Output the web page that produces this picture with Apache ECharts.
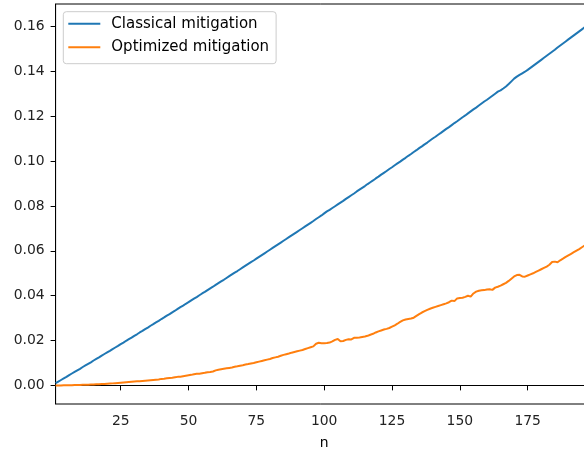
<!DOCTYPE html>
<html>
<head>
<meta charset="utf-8">
<script src="https://cdn.jsdelivr.net/npm/echarts@6/dist/echarts.min.js"></script>
<style>html,body{margin:0;padding:0;background:#fff;}#c{width:584px;height:450px;}</style>
</head>
<body>
<div id="c"></div>
<script>
const seriesNames = ['Classical mitigation', 'Optimized mitigation'];
const xTicks = [25, 50, 75, 100, 125, 150, 175];
const yTicks = [0, 0.02, 0.04, 0.06, 0.08, 0.10, 0.12, 0.14, 0.16];
const nStart = 1;
const classical = [
0.0010,0.0017,0.0024,0.0031,0.0038,0.0046,0.0053,0.0060,0.0067,0.0074,
0.0082,0.0089,0.0096,0.0103,0.0111,0.0118,0.0125,0.0133,0.0140,0.0147,
0.0154,0.0162,0.0169,0.0176,0.0184,0.0191,0.0199,0.0206,0.0213,0.0221,
0.0228,0.0236,0.0243,0.0251,0.0258,0.0266,0.0273,0.0281,0.0288,0.0296,
0.0303,0.0311,0.0318,0.0326,0.0333,0.0341,0.0349,0.0356,0.0364,0.0371,
0.0379,0.0387,0.0394,0.0402,0.0410,0.0417,0.0425,0.0433,0.0440,0.0448,
0.0456,0.0464,0.0471,0.0479,0.0487,0.0495,0.0503,0.0510,0.0518,0.0526,
0.0534,0.0542,0.0550,0.0557,0.0565,0.0573,0.0581,0.0589,0.0597,0.0605,
0.0613,0.0621,0.0629,0.0637,0.0645,0.0653,0.0661,0.0669,0.0677,0.0685,
0.0693,0.0701,0.0709,0.0717,0.0725,0.0733,0.0742,0.0750,0.0758,0.0767,
0.0776,0.0783,0.0791,0.0799,0.0807,0.0815,0.0823,0.0832,0.0840,0.0848,
0.0856,0.0865,0.0873,0.0881,0.0889,0.0898,0.0906,0.0914,0.0923,0.0931,
0.0940,0.0948,0.0956,0.0965,0.0973,0.0982,0.0990,0.0998,0.1007,0.1015,
0.1024,0.1032,0.1041,0.1049,0.1058,0.1066,0.1075,0.1083,0.1092,0.1101,
0.1109,0.1118,0.1126,0.1135,0.1144,0.1152,0.1161,0.1170,0.1178,0.1187,
0.1196,0.1204,0.1213,0.1222,0.1231,0.1239,0.1248,0.1257,0.1266,0.1274,
0.1283,0.1292,0.1301,0.1310,0.1316,0.1324,0.1333,0.1344,0.1356,0.1368,
0.1377,0.1385,0.1392,0.1399,0.1407,0.1416,0.1425,0.1434,0.1443,0.1452,
0.1461,0.1470,0.1479,0.1488,0.1497,0.1507,0.1516,0.1525,0.1534,0.1543,
0.1552,0.1561,0.1570,0.1579,0.1588,0.1597,0.1607,0.1616,0.1625
];
const optimized = [
0.0000,0.0000,0.0000,0.0001,0.0001,0.0001,0.0001,0.0002,0.0002,0.0002,
0.0003,0.0003,0.0003,0.0004,0.0004,0.0005,0.0005,0.0006,0.0006,0.0007,
0.0008,0.0009,0.0010,0.0011,0.0012,0.0013,0.0014,0.0015,0.0016,0.0017,
0.0018,0.0019,0.0020,0.0021,0.0022,0.0023,0.0024,0.0025,0.0026,0.0029,
0.0030,0.0032,0.0033,0.0034,0.0036,0.0038,0.0039,0.0041,0.0043,0.0045,
0.0047,0.0050,0.0052,0.0052,0.0054,0.0056,0.0059,0.0060,0.0062,0.0067,
0.0070,0.0072,0.0074,0.0076,0.0078,0.0080,0.0083,0.0085,0.0088,0.0090,
0.0093,0.0095,0.0098,0.0100,0.0103,0.0106,0.0109,0.0112,0.0115,0.0118,
0.0122,0.0125,0.0128,0.0132,0.0136,0.0139,0.0142,0.0146,0.0149,0.0152,
0.0155,0.0158,0.0162,0.0166,0.0170,0.0174,0.0186,0.0190,0.0188,0.0188,
0.0189,0.0191,0.0196,0.0203,0.0207,0.0197,0.0198,0.0203,0.0206,0.0205,
0.0212,0.0213,0.0214,0.0216,0.0218,0.0221,0.0226,0.0230,0.0236,0.0241,
0.0245,0.0249,0.0252,0.0256,0.0262,0.0268,0.0275,0.0283,0.0290,0.0294,
0.0296,0.0298,0.0302,0.0310,0.0318,0.0325,0.0331,0.0337,0.0342,0.0346,
0.0350,0.0354,0.0358,0.0362,0.0366,0.0371,0.0378,0.0376,0.0388,0.0390,
0.0391,0.0395,0.0400,0.0396,0.0410,0.0418,0.0422,0.0424,0.0425,0.0428,
0.0429,0.0426,0.0436,0.0440,0.0445,0.0451,0.0457,0.0466,0.0476,0.0486,
0.0492,0.0493,0.0486,0.0485,0.0490,0.0495,0.0500,0.0506,0.0512,0.0518,
0.0524,0.0530,0.0538,0.0550,0.0552,0.0549,0.0558,0.0565,0.0573,0.0580,
0.0587,0.0594,0.0601,0.0608,0.0616,0.0624,0.0631,0.0638,0.0645
];
const xMin = 1, xMax = 199;
const yMin = -0.0083, yMax = 0.1701;

const toPairs = arr => arr.map((v, i) => [nStart + i, v]);
const font = 'DejaVu Sans';
const chart = echarts.init(document.getElementById('c'), null, {renderer: 'canvas'});
chart.setOption({
  animation: false,
  backgroundColor: '#fff',
  grid: {left: 55.6, top: 4, width: 537.2, height: 400, containLabel: false, outerBoundsMode: 'none',
         show: true, borderColor: '#000', borderWidth: 1, backgroundColor: 'transparent'},
  xAxis: {
    type: 'value', min: xMin, max: xMax,
    name: 'n', nameLocation: 'middle', nameGap: 32,
    nameTextStyle: {fontFamily: font, fontSize: 13.9, color: '#000'},
    splitLine: {show: false},
    axisLine: {show: true, lineStyle: {color: '#000', width: 1}},
    axisTick: {show: true, length: 5, lineStyle: {color: '#000', width: 1}, customValues: xTicks},
    axisLabel: {fontFamily: font, fontSize: 13.9, color: '#222', margin: 10, customValues: xTicks, formatter: v => String(v)}
  },
  yAxis: {
    type: 'value', min: yMin, max: yMax,
    splitLine: {show: false},
    axisLine: {show: true, lineStyle: {color: '#000', width: 1}},
    axisTick: {show: true, length: 5, lineStyle: {color: '#000', width: 1}, customValues: yTicks},
    axisLabel: {fontFamily: font, fontSize: 13.9, color: '#222', margin: 11, customValues: yTicks, formatter: v => v.toFixed(2)}
  },
  legend: {
    orient: 'vertical', left: 63.3, top: 11.7,
    itemWidth: 32, itemHeight: 14, itemGap: 8.4,
    icon: 'path://M0,0H32V2H0Z',
    padding: [4.6, 7, 9, 5],
    borderColor: '#ccc', borderWidth: 1, borderRadius: 3, backgroundColor: '#fff',
    textStyle: {fontFamily: font, fontSize: 15, color: '#000', padding: [0, 0, 0, 6]},
    data: seriesNames
  },
  series: [
    {name: seriesNames[0], type: 'line', data: toPairs(classical), symbol: 'none', color: '#1f77b4', lineStyle: {width: 2, color: '#1f77b4'}},
    {name: seriesNames[1], type: 'line', data: toPairs(optimized), symbol: 'none', color: '#ff7f0e', lineStyle: {width: 2, color: '#ff7f0e'}}
  ]
});
</script>
</body>
</html>
